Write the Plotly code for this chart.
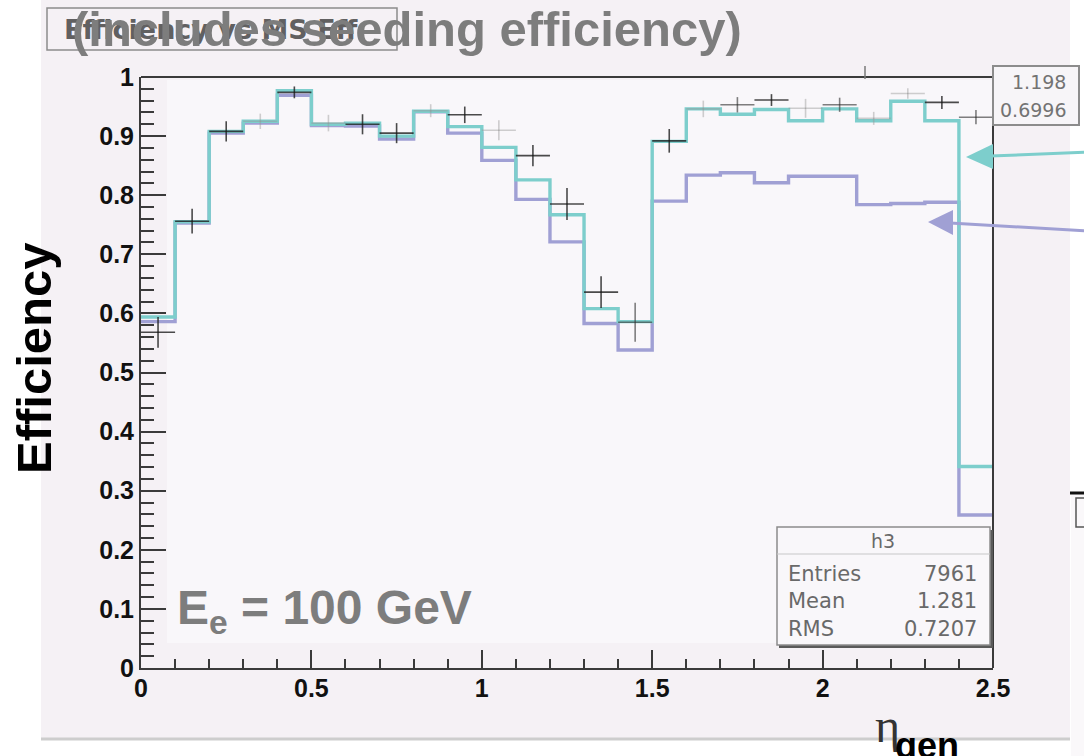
import plotly.graph_objects as go

# ---------------- data ----------------
BIN_EDGES = [0.0, 0.1, 0.2, 0.3, 0.4, 0.5, 0.6, 0.7, 0.8, 0.9, 1.0, 1.1, 1.2,
             1.3, 1.4, 1.5, 1.6, 1.7, 1.8, 1.9, 2.0, 2.1, 2.2, 2.3, 2.4, 2.5]

# teal histogram (upper)
EFF_TEAL = [0.594, 0.755, 0.908, 0.925, 0.977, 0.920, 0.922, 0.900, 0.942, 0.916,
            0.881, 0.826, 0.767, 0.608, 0.586, 0.891, 0.946, 0.937, 0.945, 0.926,
            0.946, 0.926, 0.959, 0.926, 0.341]
# purple histogram (lower)
EFF_PURPLE = [0.586, 0.753, 0.905, 0.922, 0.969, 0.918, 0.917, 0.895, 0.941, 0.905,
              0.859, 0.793, 0.721, 0.583, 0.538, 0.790, 0.834, 0.838, 0.821, 0.832,
              0.832, 0.784, 0.786, 0.788, 0.259]

# data crosses (bin centre, value, error)
DARK_X = [0.05, 0.15, 0.25, 0.45, 0.65, 0.75, 0.95, 1.15, 1.25, 1.35, 1.55, 1.85, 2.35]
DARK_Y = [0.568, 0.756, 0.908, 0.974, 0.920, 0.905, 0.936, 0.867, 0.785, 0.636, 0.892, 0.961, 0.957]
DARK_ERR = [0.026, 0.021, 0.017, 0.010, 0.017, 0.017, 0.014, 0.018, 0.027, 0.027, 0.020, 0.010, 0.011]

MED_X = [1.45, 1.75, 2.05, 2.45]
MED_Y = [0.585, 0.953, 0.953, 0.932]
MED_ERR = [0.033, 0.013, 0.012, 0.012]

FAINT_X = [0.35, 0.55, 0.85, 1.05, 1.65, 1.95, 2.15, 2.25]
FAINT_Y = [0.925, 0.922, 0.943, 0.910, 0.946, 0.947, 0.930, 0.972]
FAINT_ERR = [0.013, 0.014, 0.011, 0.017, 0.014, 0.016, 0.011, 0.009]

STATS_LABELS = ["Entries", "Mean", "RMS"]
STATS_VALUES = ["7961", "1.281", "0.7207"]
STATS2_VALUES = ["1.198", "0.6996"]

X_TICKS = [0, 0.5, 1, 1.5, 2, 2.5]
X_TICK_TEXT = ["0", "0.5", "1", "1.5", "2", "2.5"]
Y_TICKS = [0, 0.1, 0.2, 0.3, 0.4, 0.5, 0.6, 0.7, 0.8, 0.9, 1]
Y_TICK_TEXT = ["0", "0.1", "0.2", "0.3", "0.4", "0.5", "0.6", "0.7", "0.8", "0.9", "1"]

# ---------------- layout helpers ----------------
W, H = 1084, 756
L, R, T, B = 141, 993, 77, 668


def px(x):
    return (x - L) / (R - L)


def py(y):
    return (B - y) / (B - T)


TEAL = "rgb(125,206,204)"
PURPLE = "rgb(160,160,212)"
OUTER = "rgb(245,241,245)"
INNER = "rgb(249,247,250)"
AXC = "#3a3a3a"

fig = go.Figure()

fig.add_trace(go.Scatter(x=BIN_EDGES, y=EFF_PURPLE + [EFF_PURPLE[-1]], mode="lines",
                         line=dict(color=PURPLE, width=3.4, shape="hv"), showlegend=False))
fig.add_trace(go.Scatter(x=BIN_EDGES, y=EFF_TEAL + [EFF_TEAL[-1]], mode="lines",
                         line=dict(color=TEAL, width=3.4, shape="hv"), showlegend=False))


def crosses(xs, ys, errs, color):
    fig.add_trace(go.Scatter(
        x=xs, y=ys, mode="markers", marker=dict(size=1, color=color), showlegend=False,
        error_x=dict(type="constant", value=0.05, width=0, thickness=1.6, color=color),
        error_y=dict(type="data", array=errs, width=0, thickness=1.6, color=color)))


crosses(FAINT_X, FAINT_Y, FAINT_ERR, "rgba(150,150,150,0.45)")
crosses(MED_X, MED_Y, MED_ERR, "rgba(60,60,60,0.65)")
crosses(DARK_X, DARK_Y, DARK_ERR, "rgba(30,30,30,0.8)")

shapes = []
# outer pinkish canvas
shapes.append(dict(type="rect", xref="paper", yref="paper", x0=px(41), x1=px(1070),
                   y0=py(0), y1=py(739), fillcolor=OUTER, line=dict(width=0), layer="below"))
# lighter inner pad
shapes.append(dict(type="rect", xref="paper", yref="paper", x0=px(167), x1=px(993),
                   y0=py(80), y1=py(643), fillcolor=INNER, line=dict(width=0), layer="below"))
# bottom grey rule
shapes.append(dict(type="line", xref="paper", yref="paper", x0=px(41), x1=px(1070),
                   y0=py(739), y1=py(739), line=dict(color="rgb(205,205,205)", width=3)))
# right side strip (another pad)
shapes.append(dict(type="rect", xref="paper", yref="paper", x0=px(1071), x1=px(1090),
                   y0=py(494), y1=py(760), fillcolor="rgb(250,248,250)", line=dict(width=0)))
shapes.append(dict(type="line", xref="paper", yref="paper", x0=px(1070), x1=px(1090),
                   y0=py(493), y1=py(493), line=dict(color="#111", width=3)))
shapes.append(dict(type="rect", xref="paper", yref="paper", x0=px(1076), x1=px(1095),
                   y0=py(498), y1=py(527), line=dict(color="#555", width=1.5)))
# frame top and right
shapes.append(dict(type="line", xref="paper", yref="paper", x0=0, x1=1, y0=1, y1=1,
                   line=dict(color=AXC, width=2)))
shapes.append(dict(type="line", xref="paper", yref="paper", x0=1, x1=1, y0=0, y1=1,
                   line=dict(color=AXC, width=2)))
# upper-right partial stats box
shapes.append(dict(type="rect", xref="paper", yref="paper", x0=px(993), x1=px(1079),
                   y0=py(66), y1=py(125), fillcolor="rgb(247,245,248)",
                   line=dict(color="rgb(140,140,140)", width=2)))
shapes.append(dict(type="line", xref="paper", yref="paper", x0=px(865), x1=px(865),
                   y0=py(66), y1=py(79), line=dict(color="rgb(120,120,120)", width=1.5)))
# h3 stats box with shadow
shapes.append(dict(type="rect", xref="paper", yref="paper", x0=px(779), x1=px(993),
                   y0=py(530), y1=py(648), fillcolor="rgb(90,90,90)", line=dict(width=0)))
shapes.append(dict(type="rect", xref="paper", yref="paper", x0=px(777), x1=px(990),
                   y0=py(527), y1=py(645), fillcolor=INNER,
                   line=dict(color="rgb(140,140,140)", width=1.5)))
shapes.append(dict(type="line", xref="paper", yref="paper", x0=px(777), x1=px(990),
                   y0=py(554), y1=py(554), line=dict(color="rgb(200,200,200)", width=1.2)))
# title box
shapes.append(dict(type="rect", xref="paper", yref="paper", x0=px(47), x1=px(397),
                   y0=py(8), y1=py(50), fillcolor="rgba(0,0,0,0)",
                   line=dict(color="rgb(140,140,140)", width=1.5)))
# arrows
shapes.append(dict(type="line", xref="paper", yref="paper", x0=px(1090), x1=px(990),
                   y0=py(152), y1=py(156), line=dict(color=TEAL, width=3)))
shapes.append(dict(type="path", xref="paper", yref="paper",
                   path="M {} {} L {} {} L {} {} Z".format(px(966), py(157), px(993), py(144),
                                                           px(993), py(169)),
                   fillcolor=TEAL, line=dict(width=0)))
shapes.append(dict(type="line", xref="paper", yref="paper", x0=px(1090), x1=px(950),
                   y0=py(231), y1=py(223), line=dict(color=PURPLE, width=3)))
shapes.append(dict(type="path", xref="paper", yref="paper",
                   path="M {} {} L {} {} L {} {} Z".format(px(928), py(222), px(953), py(210),
                                                           px(953), py(235)),
                   fillcolor=PURPLE, line=dict(width=0)))

ann = []
ann.append(dict(text="Efficiency vs MS Eff", x=px(62), y=py(30), xref="paper", yref="paper",
                xanchor="left", yanchor="middle", showarrow=False,
                font=dict(family="DejaVu Sans", size=27, color="rgba(70,70,70,0.85)", weight="bold")))
ann.append(dict(text="(includes seeding efficiency)", x=px(70), y=py(29), xref="paper",
                yref="paper", xanchor="left", yanchor="middle", showarrow=False,
                font=dict(family="Liberation Sans", size=49, color="rgb(125,125,125)", weight="bold")))
ann.append(dict(text="Efficiency", x=px(34), y=py(358), xref="paper", yref="paper",
                xanchor="center", yanchor="middle", textangle=-90, showarrow=False,
                font=dict(family="Liberation Sans", size=49, color="#000", weight="bold")))
ann.append(dict(text="E<sub>e</sub> = 100 GeV", x=px(175), y=py(611), xref="paper",
                yref="paper", xanchor="left", yanchor="middle", showarrow=False,
                font=dict(family="Liberation Sans", size=48, color="rgb(125,125,125)", weight="bold")))
ann.append(dict(text="η", x=px(873), y=py(725), xref="paper", yref="paper",
                xanchor="left", yanchor="middle", showarrow=False,
                font=dict(family="Liberation Serif", size=48, color="#333")))
ann.append(dict(text="gen", x=px(893), y=py(745), xref="paper", yref="paper",
                xanchor="left", yanchor="middle", showarrow=False,
                font=dict(family="Liberation Sans", size=36, color="#000", weight="bold")))
# h3 stats text
ann.append(dict(text="h3", x=px(883), y=py(541), xref="paper", yref="paper",
                xanchor="center", yanchor="middle", showarrow=False,
                font=dict(family="DejaVu Sans", size=19, color="rgb(105,105,105)")))
STATS_ROW_Y = [574, 601, 629]
for lab, val, yy in zip(STATS_LABELS, STATS_VALUES, STATS_ROW_Y):
    ann.append(dict(text=lab, x=px(786), y=py(yy), xref="paper", yref="paper",
                    xanchor="left", yanchor="middle", showarrow=False,
                    font=dict(family="DejaVu Sans", size=21, color="rgb(105,105,105)")))
    ann.append(dict(text=val, x=px(979), y=py(yy), xref="paper", yref="paper",
                    xanchor="right", yanchor="middle", showarrow=False,
                    font=dict(family="DejaVu Sans", size=21, color="rgb(105,105,105)")))
for val, yy in zip(STATS2_VALUES, [82, 110]):
    ann.append(dict(text=val, x=px(1068), y=py(yy), xref="paper", yref="paper",
                    xanchor="right", yanchor="middle", showarrow=False,
                    font=dict(family="DejaVu Sans", size=19, color="rgb(115,115,115)")))

fig.update_layout(
    width=W, height=H,
    margin=dict(l=L, r=W - R, t=T, b=H - B, pad=0),
    paper_bgcolor="white", plot_bgcolor=OUTER,
    shapes=shapes, annotations=ann, showlegend=False,
)
fig.update_xaxes(range=[0, 2.5], showgrid=False, zeroline=False, showline=True,
                 linecolor=AXC, linewidth=2, ticks="inside", ticklen=18, tickwidth=2,
                 tickcolor=AXC, tickvals=X_TICKS, ticktext=X_TICK_TEXT,
                 minor=dict(dtick=0.1, ticks="inside", ticklen=9, tickwidth=2, tickcolor=AXC),
                 tickfont=dict(family="Liberation Sans", size=25, color="#111", weight="bold"),
                 ticklabelstandoff=-3)
fig.update_yaxes(range=[0, 1], showgrid=False, zeroline=False, showline=True,
                 linecolor=AXC, linewidth=2, ticks="inside", ticklen=25, tickwidth=2,
                 tickcolor=AXC, tickvals=Y_TICKS, ticktext=Y_TICK_TEXT,
                 minor=dict(dtick=0.02, ticks="inside", ticklen=13, tickwidth=2, tickcolor=AXC),
                 tickfont=dict(family="Liberation Sans", size=25, color="#111", weight="bold"),
                 ticklabelstandoff=0)

fig.write_html("out.html")
